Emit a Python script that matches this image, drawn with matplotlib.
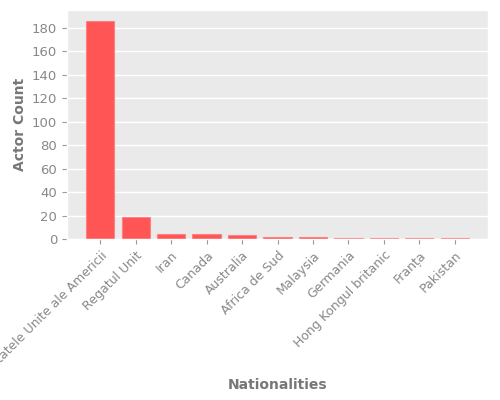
import matplotlib
matplotlib.use("Agg")
import matplotlib.pyplot as plt
import numpy as np

plt.style.use("ggplot")

nationalities = [
    "Statele Unite ale Americii",
    "Regatul Unit",
    "Iran",
    "Canada",
    "Australia",
    "Africa de Sud",
    "Malaysia",
    "Germania",
    "Hong Kongul britanic",
    "Franța",
    "Pakistan",
]
actor_counts = [186, 19, 4, 4, 3, 2, 2, 1, 1, 1, 1]

fig, ax = plt.subplots(figsize=(5, 4), dpi=100)
plt.subplots_adjust(left=0.134, right=0.976, top=0.975, bottom=0.4025)

ax.set_facecolor("#eaeaea")
ax.grid(axis="x", visible=False)
ax.grid(axis="y", color="white", linewidth=1)

x = np.arange(len(nationalities))
ax.bar(x, actor_counts, width=0.8, color="#ff5555", edgecolor="#ff8080", linewidth=0.8)

ax.set_xticks(x)
ax.set_xticklabels(nationalities, rotation=45, ha="right", va="top", rotation_mode="anchor")
ax.tick_params(axis="x", colors="#999999", labelcolor="#888888", labelsize=9)
ax.tick_params(axis="y", colors="#999999", labelcolor="#888888", labelsize=9.5)
ax.set_yticks(range(0, 181, 20))

# etichetele axelor puse manual, ca in imaginea de referinta
ax.set_xlabel("Nationalities", fontsize=10, fontweight="bold", color="#777777", va="center")
ax.xaxis.set_label_coords(0.5, -0.637)
ax.set_ylabel("Actor Count", fontsize=10, fontweight="bold", color="#777777", va="center")
ax.yaxis.set_label_coords(-0.112, 0.5)

fig.savefig("out.png", dpi=100)
